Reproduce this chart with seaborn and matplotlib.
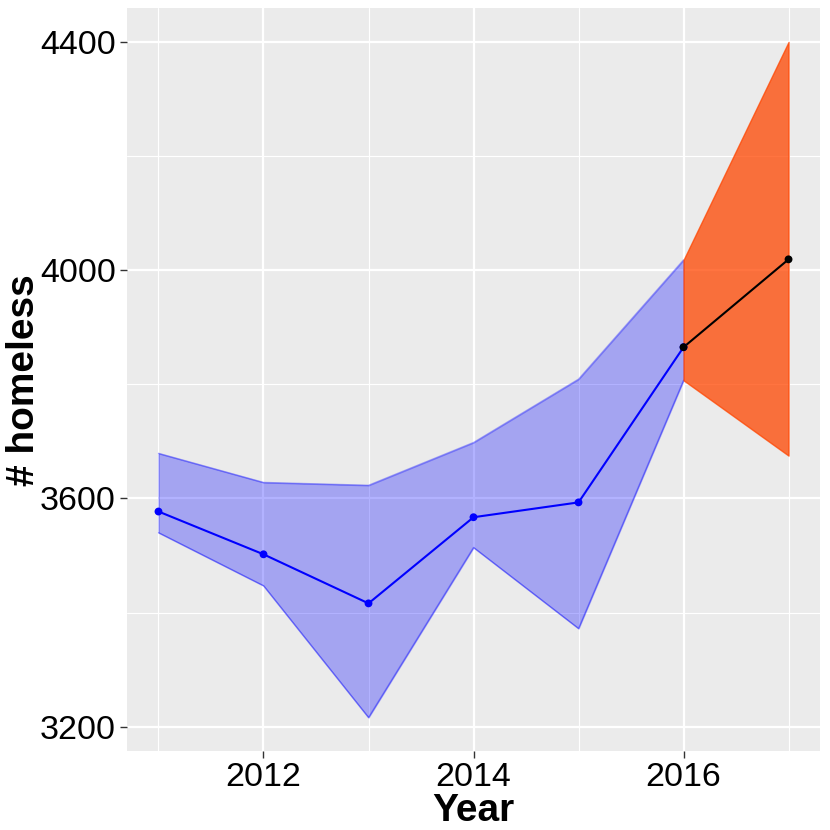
import numpy as np
import pandas as pd
import matplotlib.pyplot as plt
import seaborn as sns

# observed series with its band
years = [2011, 2012, 2013, 2014, 2015, 2016]
homeless = [3577, 3502, 3416, 3567, 3593, 3865]
upper = [3679, 3628, 3623, 3698, 3809, 4018]
lower = [3540, 3447, 3216, 3514, 3372, 3807]

# forecast segment
fc_years = [2016, 2017]
fc_homeless = [3865, 4019]
fc_upper = [4018, 4400]
fc_lower = [3807, 3675]

obs = pd.DataFrame({"Year": years, "homeless": homeless})
fc = pd.DataFrame({"Year": fc_years, "homeless": fc_homeless})

sns.set_theme(style="darkgrid", rc={
    "axes.facecolor": "#EBEBEB",
    "grid.color": "white",
})
plt.rcParams["font.family"] = ["Liberation Sans", "DejaVu Sans"]

fig = plt.figure(figsize=(8.3, 8.3), dpi=100)
ax = fig.add_axes([0.153, 0.095, 0.835, 0.895])

ax.fill_between(years, lower, upper, color="blue", alpha=0.3, lw=1, zorder=2)
ax.plot(years, upper, color="blue", alpha=0.3, lw=1, zorder=2)
ax.plot(years, lower, color="blue", alpha=0.3, lw=1, zorder=2)
ax.fill_between(fc_years, fc_lower, fc_upper, facecolor="#FF4500", alpha=0.75,
                edgecolor="#FF4500", lw=1, zorder=2)

sns.lineplot(data=obs, x="Year", y="homeless", color="blue", lw=1.5, ax=ax, zorder=3)
sns.scatterplot(data=obs, x="Year", y="homeless", color="blue", s=32, ax=ax,
                edgecolor="none", zorder=4)
sns.lineplot(data=fc, x="Year", y="homeless", color="black", lw=1.5, ax=ax, zorder=3)
sns.scatterplot(data=fc, x="Year", y="homeless", color="black", s=32, ax=ax,
                edgecolor="none", zorder=4)

ax.set_xlim(2010.7, 2017.3)
ax.set_ylim(3157, 4459)
ax.set_xticks([2012, 2014, 2016])
ax.set_xticks([2011, 2013, 2015, 2017], minor=True)
ax.set_yticks([3200, 3600, 4000, 4400])
ax.set_yticks([3400, 3800, 4200], minor=True)
ax.grid(which="major", color="white", lw=1.6)
ax.grid(which="minor", color="white", lw=0.8)
for s in ax.spines.values():
    s.set_visible(False)
ax.tick_params(which="major", length=5, width=1, color="#333333",
               labelsize=24.5, labelcolor="black", pad=3, left=True, bottom=True)
ax.tick_params(which="minor", length=0)

ax.set_xlabel("Year", fontsize=28, fontweight="bold", color="black", labelpad=0)
ax.set_ylabel("# homeless", fontsize=28, fontweight="bold", color="black")
ax.yaxis.set_label_coords(-0.123, 0.5)

fig.savefig("out.png", dpi=100)
